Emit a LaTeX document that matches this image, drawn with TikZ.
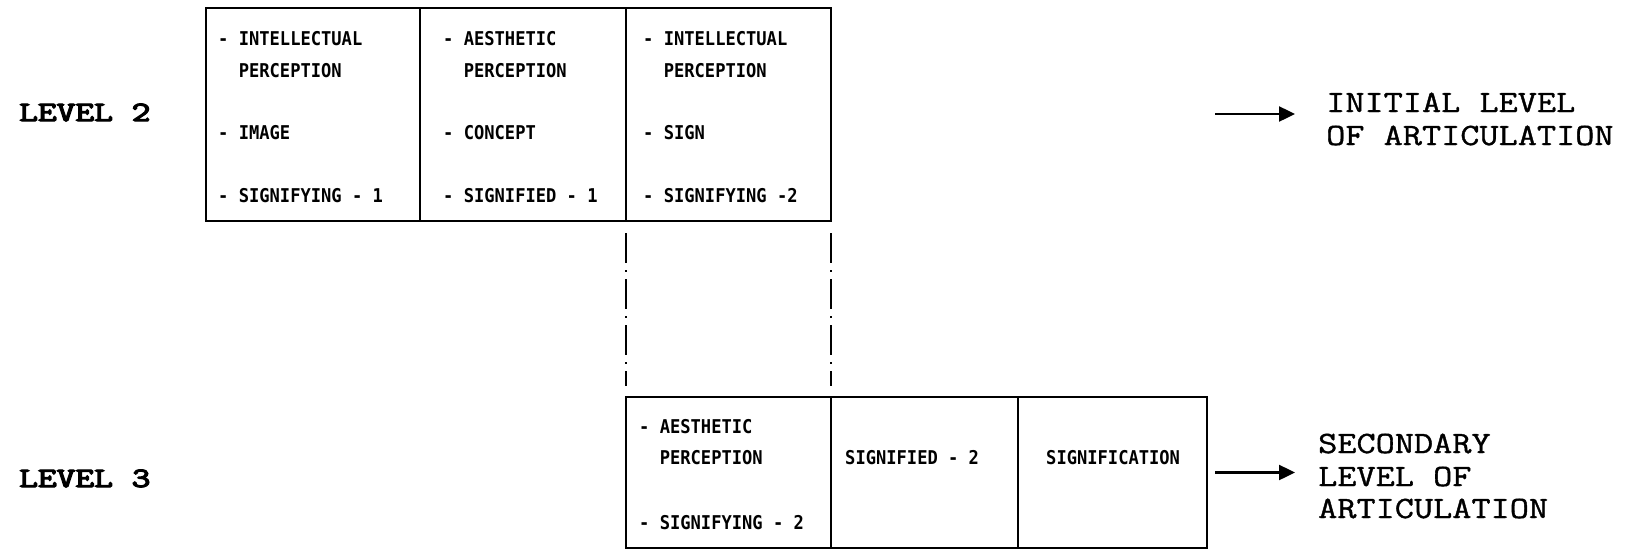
\documentclass[tikz,border=0pt]{standalone}
\usepackage{fontspec}
\usepackage{graphicx}
\newfontfamily\cellfont{DejaVu Sans Mono}[FakeStretch=0.9]
\newfontfamily\typefont{Latin Modern Mono}[FakeStretch=1.2, AutoFakeBold=1.2]
\newfontfamily\lvlfont{Latin Modern Mono}[AutoFakeBold=4]
\newcommand{\lvltext}[1]{\scalebox{1.3}[1]{\lvlfont\bfseries #1}}
\usetikzlibrary{arrows.meta}
\begin{document}
\begin{tikzpicture}[x=1pt,y=-1pt,
  cell/.style={draw, line width=2.2pt, rectangle, inner sep=0pt, outer sep=0pt, anchor=north west},
  ctext/.style={anchor=base west, inner sep=0pt, font=\cellfont\bfseries\fontsize{19}{19}\selectfont},
  lvl/.style={anchor=base west, inner sep=0pt, font=\fontsize{28}{28}\selectfont},
  side/.style={anchor=base west, inner sep=0pt, font=\typefont\bfseries\fontsize{31}{33}\selectfont},
  link/.style={line width=2pt, dash pattern=on 30pt off 7pt on 2pt off 7pt},
  arr/.style={line width=2.4pt, -{Triangle[length=16pt,width=15pt]}}]
\useasboundingbox (0,0) rectangle (1627,549);

% level labels
\node[lvl] (lv2) at (19,121) {\lvltext{LEVEL 2}};
\node[lvl] (lv3) at (19,487) {\lvltext{LEVEL 3}};

% top cells
\node[cell, minimum width=214pt, minimum height=213pt] (a1) at (206,8) {};
\node[cell, minimum width=206pt, minimum height=213pt] (a2) at (420,8) {};
\node[cell, minimum width=205pt, minimum height=213pt] (a3) at (626,8) {};

% bottom cells
\node[cell, minimum width=205pt, minimum height=151pt] (b1) at (626,397) {};
\node[cell, minimum width=187pt, minimum height=151pt] (b2) at (831,397) {};
\node[cell, minimum width=189pt, minimum height=151pt] (b3) at (1018,397) {};

% top cell texts
\node[ctext] (a1t1) at (218,45) {- INTELLECTUAL};
\node[ctext] (a1t2) at (218,77) {\phantom{- }PERCEPTION};
\node[ctext] (a1t3) at (218,139) {- IMAGE};
\node[ctext] (a1t4) at (218,202) {- SIGNIFYING - 1};

\node[ctext] (a2t1) at (443,45) {- AESTHETIC};
\node[ctext] (a2t2) at (443,77) {\phantom{- }PERCEPTION};
\node[ctext] (a2t3) at (443,139) {- CONCEPT};
\node[ctext] (a2t4) at (443,202) {- SIGNIFIED - 1};

\node[ctext] (a3t1) at (643,45) {- INTELLECTUAL};
\node[ctext] (a3t2) at (643,77) {\phantom{- }PERCEPTION};
\node[ctext] (a3t3) at (643,139) {- SIGN};
\node[ctext] (a3t4) at (643,202) {- SIGNIFYING -2};

% bottom cell texts
\node[ctext] (b1t1) at (639,433) {- AESTHETIC};
\node[ctext] (b1t2) at (639,464) {\phantom{- }PERCEPTION};
\node[ctext] (b1t3) at (639,529) {- SIGNIFYING - 2};
\node[ctext] (b2t1) at (845,464) {SIGNIFIED - 2};
\node[ctext] (b3t1) at (1046,464) {SIGNIFICATION};

% dash-dot links
\draw[link, shorten <=12pt, shorten >=11pt] (a3.south west) -- (b1.north west);
\draw[link, shorten <=12pt, shorten >=11pt] (a3.south east) -- (b1.north east);

% right side texts
\node[side] (r1a) at (1326,112) {INITIAL LEVEL};
\node[side] (r1b) at (1326,145) {OF ARTICULATION};
\node[side] (r2a) at (1318,453) {SECONDARY};
\node[side] (r2b) at (1318,486) {LEVEL OF};
\node[side] (r2c) at (1318,518) {ARTICULATION};

% arrows
\coordinate (s2) at (1215,114);
\coordinate (e2) at (1295,114);
\coordinate (e3) at (1295,472.5);
\draw[arr] (s2) -- (e2);
\draw[arr, shorten <=8pt] (b3.east) -- (e3);
\end{tikzpicture}
\end{document}
